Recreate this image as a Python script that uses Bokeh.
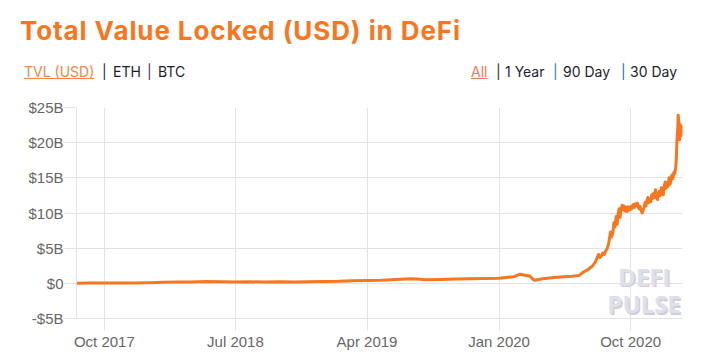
import pandas as pd
from bokeh.plotting import figure
from bokeh.models import (Div, FixedTicker, DatetimeTickFormatter, Label,
                          Range1d, ColumnDataSource)
from bokeh.layouts import column
from bokeh.embed import file_html
from bokeh.resources import INLINE

# ---- data (TVL in billions USD) ----
dates = [
    "2017-08-05", "2017-09-01", "2017-10-01", "2017-11-01", "2017-12-01",
    "2018-01-01", "2018-02-01", "2018-03-01", "2018-04-01", "2018-05-01",
    "2018-06-01", "2018-07-01", "2018-08-01", "2018-09-01", "2018-10-01",
    "2018-11-01", "2018-12-01", "2019-01-01", "2019-02-01", "2019-03-01",
    "2019-04-01", "2019-05-01", "2019-06-01", "2019-07-01", "2019-07-15",
    "2019-08-01", "2019-09-01", "2019-10-01", "2019-11-01", "2019-12-01",
    "2020-01-01", "2020-01-20", "2020-02-01", "2020-02-14", "2020-02-24",
    "2020-03-05", "2020-03-12", "2020-03-15", "2020-04-01", "2020-04-15",
    "2020-05-01", "2020-05-15", "2020-06-01", "2020-06-15", "2020-06-25",
    "2020-07-05", "2020-07-14", "2020-07-20", "2020-07-23", "2020-07-26",
    "2020-07-29", "2020-08-01", "2020-08-04", "2020-08-07", "2020-08-10",
    "2020-08-13", "2020-08-16", "2020-08-18", "2020-08-20", "2020-08-22",
    "2020-08-25", "2020-08-27", "2020-08-29", "2020-09-01", "2020-09-03",
    "2020-09-05", "2020-09-07", "2020-09-09", "2020-09-11", "2020-09-13",
    "2020-09-15", "2020-09-17", "2020-09-19", "2020-09-21", "2020-09-23",
    "2020-09-25", "2020-09-27", "2020-09-29", "2020-10-01", "2020-10-03",
    "2020-10-05", "2020-10-07", "2020-10-09", "2020-10-11", "2020-10-13",
    "2020-10-15", "2020-10-17", "2020-10-19", "2020-10-21", "2020-10-23",
    "2020-10-25", "2020-10-27", "2020-10-29", "2020-10-31", "2020-11-02",
    "2020-11-04", "2020-11-06", "2020-11-08", "2020-11-10", "2020-11-12",
    "2020-11-14", "2020-11-16", "2020-11-18", "2020-11-20", "2020-11-22",
    "2020-11-24", "2020-11-26", "2020-11-28", "2020-11-30", "2020-12-02",
    "2020-12-04", "2020-12-06", "2020-12-08", "2020-12-10", "2020-12-12",
    "2020-12-14", "2020-12-16", "2020-12-18", "2020-12-20", "2020-12-22",
    "2020-12-24", "2020-12-26", "2020-12-28", "2020-12-30", "2021-01-01",
    "2021-01-03", "2021-01-04", "2021-01-05", "2021-01-06", "2021-01-07",
    "2021-01-08", "2021-01-09", "2021-01-10", "2021-01-11", "2021-01-12",
    "2021-01-13", "2021-01-14", "2021-01-15", "2021-01-16", "2021-01-17",
]
tvl_billions = [
    0.02, 0.03, 0.03, 0.04, 0.06,
    0.10, 0.15, 0.18, 0.20, 0.25,
    0.22, 0.20, 0.22, 0.18, 0.22,
    0.20, 0.22, 0.25, 0.28, 0.35,
    0.40, 0.45, 0.55, 0.65, 0.60,
    0.50, 0.55, 0.60, 0.65, 0.68,
    0.72, 0.85, 0.95, 1.30, 1.15,
    1.05, 0.55, 0.45, 0.65, 0.75,
    0.85, 0.95, 1.00, 1.10, 1.60,
    2.00, 2.50, 3.10, 3.60, 4.10,
    3.70, 3.90, 4.30, 4.10, 4.60,
    4.90, 5.60, 6.40, 7.30, 6.60,
    7.20, 8.60, 8.00, 9.50, 8.40,
    9.90, 10.6, 9.40, 10.4, 11.1,
    10.5, 11.0, 10.3, 10.8, 10.2,
    10.9, 10.4, 10.8, 10.5, 11.0,
    10.7, 11.2, 10.8, 11.3, 11.0,
    11.4, 10.9, 10.6, 10.9, 10.3,
    10.0, 10.4, 10.8, 11.5, 11.0,
    11.8, 12.2, 11.5, 12.0, 11.6,
    12.6, 12.1, 12.8, 12.2, 13.3,
    12.4, 11.9, 12.7, 13.1, 12.5,
    13.6, 13.0, 12.6, 13.8, 14.4,
    13.5, 14.3, 13.8, 15.0, 14.1,
    14.6, 15.4, 14.9, 15.8, 15.6,
    16.6, 17.5, 19.5, 21.0, 21.8,
    23.9, 23.2, 22.6, 20.4, 21.3,
    22.5, 21.0, 22.3, 21.4, 21.9,
]
y_ticks = [-5, 0, 5, 10, 15, 20, 25]
y_tick_labels = ["-$5B", "$0", "$5B", "$10B", "$15B", "$20B", "$25B"]
x_tick_dates = ["2017-10-01", "2018-07-01", "2019-04-01", "2020-01-01", "2020-10-01"]
x_start, x_end = "2017-08-04", "2021-01-17"
y_start, y_end = -5, 25

ORANGE = "#f7761e"
GRID = "#e3e3e3"
LABEL = "#666666"


def ms(d):
    return pd.Timestamp(d).value / 1e6


source = ColumnDataSource(dict(date=pd.to_datetime(dates), tvl=tvl_billions))


def item(txt, left, color, underline=False):
    deco = "text-decoration:underline;" if underline else ""
    return (f'<span style="position:absolute;left:{left}px;top:65px;font-size:14px;'
            f'line-height:14px;color:{color};white-space:nowrap;{deco}">{txt}</span>')


nav = "".join([
    item("TVL (USD)", 24, "#f58445", True),
    item("|", 102, "#22264f"),
    item("ETH", 113, "#1d1d2b"),
    item("|", 147, "#4b1f6e"),
    item("BTC", 158, "#1d1d2b"),
    item("All", 471, "#f4764f", True),
    item("|", 496, "#22264f"),
    item("1 Year", 505, "#1d1d3b"),
    item("|", 553, "#2a7bbf"),
    item("90 Day", 563, "#1d1d2b"),
    item("|", 621, "#2a6fa8"),
    item("30 Day", 630, "#1d1d2b"),
])

header = Div(
    width=700, height=92, margin=(0, 0, 0, 0),
    text=(
        '<div style="position:relative;width:700px;height:92px;font-family:Inter,sans-serif;">'
        f'<span style="position:absolute;left:20px;top:18px;font-size:26px;line-height:26px;'
        f'font-weight:700;letter-spacing:0.9px;color:{ORANGE};white-space:nowrap;">'
        'Total Value Locked (USD) in DeFi</span>'
        + nav +
        '</div>'
    ),
)

p = figure(
    width=700, height=260, output_backend="svg", toolbar_location=None,
    x_axis_type="datetime",
    x_range=Range1d(pd.Timestamp(x_start), pd.Timestamp(x_end)),
    y_range=Range1d(y_start, y_end),
    min_border_left=76, min_border_right=18, min_border_top=15, min_border_bottom=32,
    outline_line_color=None, margin=(0, 0, 0, 0),
)

p.line(x="date", y="tvl", source=source, line_width=3, line_color=ORANGE,
       line_join="round")

# axes
p.yaxis.ticker = FixedTicker(ticks=y_ticks)
p.yaxis.major_label_overrides = {t: s for t, s in zip(y_ticks, y_tick_labels)}
p.xaxis.ticker = FixedTicker(ticks=[ms(d) for d in x_tick_dates])
fmt = "%b %Y"
p.xaxis.formatter = DatetimeTickFormatter(
    milliseconds=fmt, seconds=fmt, minsec=fmt, minutes=fmt, hourmin=fmt,
    hours=fmt, days=fmt, months=fmt, years=fmt)

for ax in (p.xaxis[0], p.yaxis[0]):
    ax.axis_line_color = GRID
    ax.major_tick_line_color = GRID
    ax.major_tick_out = 12
    ax.major_tick_in = 0
    ax.minor_tick_line_color = None
    ax.major_label_text_color = LABEL
    ax.major_label_text_font = "Liberation Sans"
    ax.major_label_text_font_size = "15px"
p.yaxis.major_label_standoff = 1
p.xaxis.major_label_standoff = 2

p.xgrid.grid_line_color = GRID
p.ygrid.grid_line_color = GRID

# watermark
for txt, yv in (("DEFI", 1.0), ("PULSE", -2.9)):
    p.add_layout(Label(x=ms("2020-10-29"), y=yv, text=txt, text_align="center",
                       text_baseline="alphabetic", text_font="Open Sans",
                       text_font_style="bold", text_font_size="24px",
                       text_color="#cfcfd8", x_offset=1.5, y_offset=-1.5))
    p.add_layout(Label(x=ms("2020-10-29"), y=yv, text=txt, text_align="center",
                       text_baseline="alphabetic", text_font="Open Sans",
                       text_font_style="bold", text_font_size="24px",
                       text_color="#e0e0ea"))

layout = column(header, p, margin=(0, 0, 0, 0), spacing=0)
open("out.html", "w").write(file_html(layout, INLINE))
